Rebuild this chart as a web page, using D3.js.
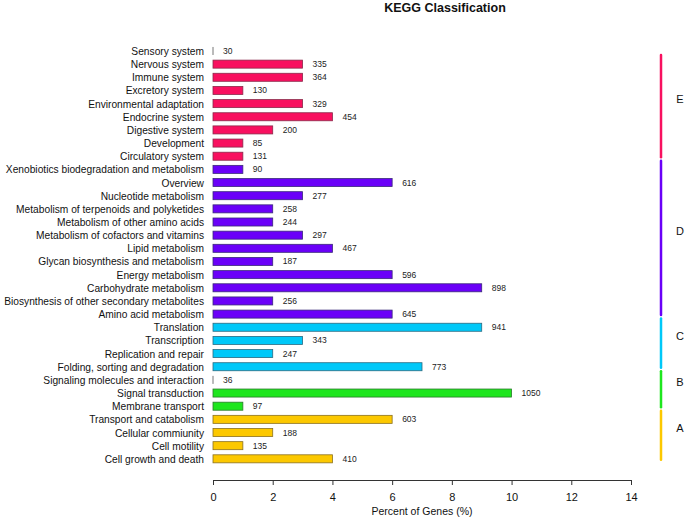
<!DOCTYPE html>
<html>
<head>
<meta charset="utf-8">
<script src="https://cdn.jsdelivr.net/npm/d3@7"></script>
<style>
  html, body { margin: 0; padding: 0; background: #fff; }
  svg { display: block; font-family: "Liberation Sans", Arial, Helvetica, sans-serif; }
</style>
</head>
<body>
<svg id="chart" width="685" height="518"></svg>
<script>
// ---- data ----
const categories = [
  "Sensory system", "Nervous system", "Immune system", "Excretory system",
  "Environmental adaptation", "Endocrine system", "Digestive system", "Development",
  "Circulatory system", "Xenobiotics biodegradation and metabolism", "Overview",
  "Nucleotide metabolism", "Metabolism of terpenoids and polyketides",
  "Metabolism of other amino acids", "Metabolism of cofactors and vitamins",
  "Lipid metabolism", "Glycan biosynthesis and metabolism", "Energy metabolism",
  "Carbohydrate metabolism", "Biosynthesis of other secondary metabolites",
  "Amino acid metabolism", "Translation", "Transcription", "Replication and repair",
  "Folding, sorting and degradation", "Signaling molecules and interaction",
  "Signal transduction", "Membrane transport", "Transport and catabolism",
  "Cellular commiunity", "Cell motility", "Cell growth and death"
];
const geneCounts = [30, 335, 364, 130, 329, 454, 200, 85, 131, 90, 616, 277, 258, 244, 297, 467,
  187, 596, 898, 256, 645, 941, 343, 247, 773, 36, 1050, 97, 603, 188, 135, 410];
const percents = [0, 3, 3, 1, 3, 4, 2, 1, 1, 1, 6, 3, 2, 2, 3, 4,
  2, 6, 9, 2, 6, 9, 3, 2, 7, 0, 10, 1, 6, 2, 1, 4];
const groupOf = ["E","E","E","E","E","E","E","E","E","D","D","D","D","D","D","D",
  "D","D","D","D","D","C","C","C","C","B","B","B","A","A","A","A"];
const groupNames = ["E", "D", "C", "B", "A"];
const groupColors = ["#f8105f", "#6a00f8", "#00c8f8", "#1ee61e", "#fcc800"];
const groupStrokes = ["#8a2a4a", "#3a2a7a", "#2a6a80", "#2a7a2a", "#8a7020"];
const xTicks = [0, 2, 4, 6, 8, 10, 12, 14];
const title = "KEGG Classification";
const xLabel = "Percent of Genes (%)";

// ---- layout ----
const svg = d3.select("#chart");
const x = d3.scaleLinear().domain([0, 14]).range([213, 631]);
const y = d3.scaleBand().domain(categories).range([44.4, 465.4])
  .paddingInner(0.39).paddingOuter(0.195);
const color = d3.scaleOrdinal().domain(groupNames).range(groupColors);
const stroke = d3.scaleOrdinal().domain(groupNames).range(groupStrokes);
const cy = c => y(c) + y.bandwidth() / 2;

const data = categories.map((c, i) => ({ c, n: geneCounts[i], p: percents[i], g: groupOf[i] }));

// title
svg.append("text").attr("x", 445).attr("y", 12).attr("text-anchor", "middle")
  .attr("font-size", 12.5).attr("font-weight", "bold").attr("fill", "#111").text(title);

// bars
svg.append("g").selectAll("rect").data(data.filter(d => d.p > 0)).join("rect")
  .attr("x", x(0)).attr("y", d => y(d.c))
  .attr("width", d => x(d.p) - x(0)).attr("height", y.bandwidth())
  .attr("fill", d => color(d.g)).attr("stroke", d => stroke(d.g)).attr("stroke-width", 0.8);
// zero-length bars drawn as thin line
svg.append("g").selectAll("line").data(data.filter(d => d.p === 0)).join("line")
  .attr("x1", x(0)).attr("x2", x(0))
  .attr("y1", d => y(d.c)).attr("y2", d => y(d.c) + y.bandwidth())
  .attr("stroke", "#777").attr("stroke-width", 1);

// value labels
svg.append("g").selectAll("text").data(data).join("text")
  .attr("x", d => x(d.p) + 10).attr("y", d => cy(d.c) + 3)
  .attr("font-size", 8.5).attr("fill", "#222").text(d => d.n);

// category labels (condensed horizontally to fit like the reference)
const labelG = svg.append("g");
const labels = labelG.selectAll("text").data(data).join("text")
  .attr("x", 0).attr("y", d => cy(d.c) + 4)
  .attr("text-anchor", "end").attr("font-size", 11).attr("fill", "#111").text(d => d.c);
let maxW = 0;
labels.each(function() { maxW = Math.max(maxW, this.getComputedTextLength()); });
const k = maxW > 200 ? 200 / maxW : 1;
labelG.attr("transform", `translate(204,0) scale(${k},1)`);

// x axis
const axis = d3.axisBottom(x).tickValues(xTicks).tickSize(5).tickSizeOuter(0).tickFormat(d3.format("d"));
const gx = svg.append("g").attr("transform", "translate(0,480)").call(axis);
gx.select(".domain").attr("stroke", "#333").attr("stroke-width", 1);
gx.selectAll(".tick line").attr("stroke", "#333");
gx.selectAll(".tick text").attr("font-size", 11).attr("fill", "#111")
  .attr("font-family", "'Liberation Sans', Arial, sans-serif").attr("dy", "1.15em");
svg.append("text").attr("x", x(7)).attr("y", 515).attr("text-anchor", "middle")
  .attr("font-size", 10.5).attr("fill", "#111").text(xLabel);

// group brackets
groupNames.forEach((g, gi) => {
  const idx = data.map((d, i) => d.g === g ? i : -1).filter(i => i >= 0);
  const first = idx[0], last = idx[idx.length - 1];
  const top = first === 0 ? cy(categories[0]) + 4 : cy(categories[first - 1]) + 4.5;
  const bot = cy(categories[last]) + 1;
  svg.append("line").attr("x1", 661).attr("x2", 661).attr("y1", top).attr("y2", bot)
    .attr("stroke", color(g)).attr("stroke-width", 2.5).attr("stroke-linecap", "round");
  svg.append("text").attr("x", 680).attr("y", (top + bot) / 2 - 7 + 4)
    .attr("text-anchor", "middle").attr("font-size", 11).attr("fill", "#111").text(g);
});
</script>
</body>
</html>
